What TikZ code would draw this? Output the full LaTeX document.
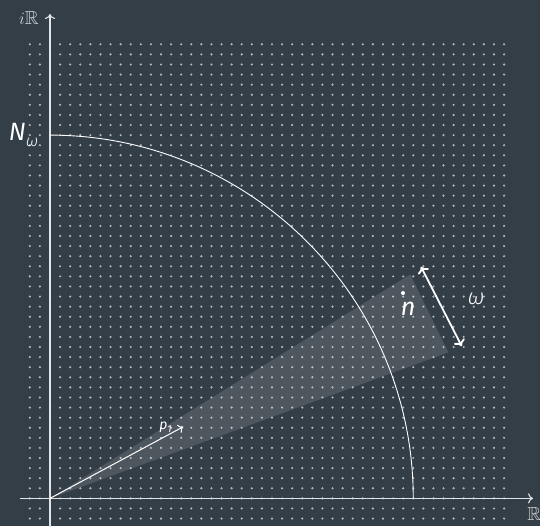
\documentclass[tikz,border=0pt]{standalone}
\usepackage{fontspec}
\usepackage{amssymb}
\usetikzlibrary{arrows.meta}
\setmainfont{Fira Sans}
\newfontfamily\lightfont{Fira Sans Light}
\definecolor{bgc}{RGB}{52,62,71}
\definecolor{dotc}{RGB}{180,186,192}
\definecolor{axc}{RGB}{225,228,230}
\begin{document}
\begin{tikzpicture}[x=10.09pt,y=10.09pt,
  axis/.style={draw=axc,line width=1.1pt,-{To[length=5pt,width=10pt]}},
  lbl/.style={text=white,inner sep=0pt},
  bigtxt/.style={font=\fontsize{25}{30}\selectfont\itshape},
  rtxt/.style={text=axc!85!gray,inner sep=0pt,font=\fontsize{19}{21}\selectfont}]
% background
\fill[bgc] (-4.955,-2.745) rectangle (48.56,49.39);
\useasboundingbox (-4.955,-2.745) rectangle (48.56,49.39);
% dot grid
\foreach \i in {-2,...,45}{
  \foreach \j in {-2,...,45}{
    \fill[dotc] (\i,\j) circle (1.2pt);
  }
}
% wedge
\coordinate (O) at (0,0);
\fill[white,fill opacity=0.13] (O) -- (35.70,22.20) -- (39.47,14.47) -- cycle;
% axes
\coordinate (xs) at (-3.0,0);
\coordinate (xe) at (47.87,0);
\coordinate (ys) at (0,-2.8);
\coordinate (ye) at (0,48.0);
\draw[axis] (xs) -- (xe);
\draw[axis] (ys) -- (ye);
\node[rtxt] (RR) at (48.0,-1.5) {$\mathbb{R}$};
\node[rtxt] (iR) at (-2.1,47.65) {$i\mathbb{R}$};
% arc
\draw[white,line width=0.9pt] (36,0) arc[start angle=0,end angle=90,radius=36];
\node[lbl,bigtxt,anchor=base east] (Nw) at (-1.15,35.45) {N\raisebox{-0.22em}{\lightfont\itshape\fontsize{16}{18}\selectfont ω}};
% p1 arrow
\coordinate (p1) at (13.21,7.10);
\draw[white,line width=1pt,-{To[length=5pt,width=9pt]}] (O) -- (p1);
\node[lbl,font=\fontsize{14}{16}\selectfont\itshape] (p1l) at (11.45,7.07) {p\raisebox{-0.25em}{\fontsize{10}{11}\selectfont 1}};
% point n
\fill[white] (34.98,20.35) circle (2pt);
\node[lbl,bigtxt] (n) at (35.48,18.77) {n};
% omega arrow
\coordinate (wa) at (36.77,22.95);
\coordinate (wb) at (40.80,15.09);
\draw[white,line width=1.8pt,{To[length=6pt,width=12pt]}-{To[length=6pt,width=12pt]}] (wa) -- (wb);
\node[lbl,font=\lightfont\itshape\fontsize{22}{26}\selectfont] (w) at (42.22,19.75) {ω};
\end{tikzpicture}
\end{document}
